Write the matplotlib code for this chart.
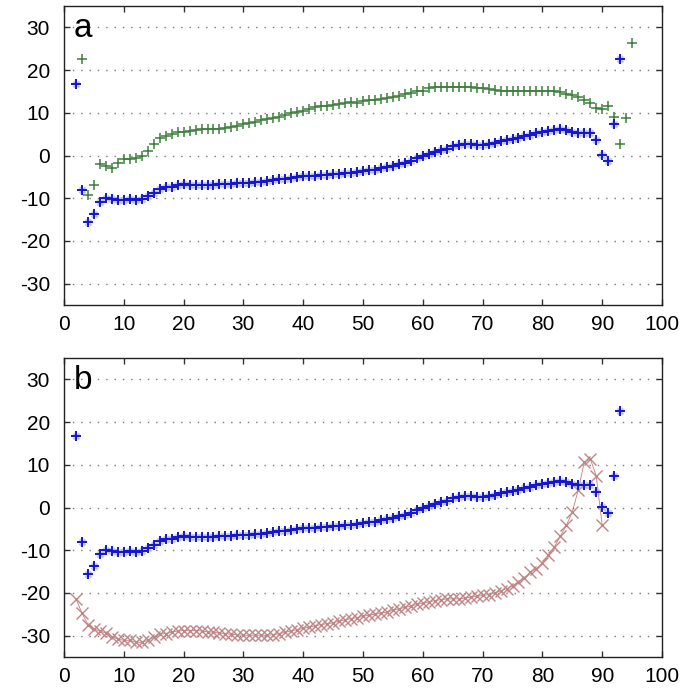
import numpy as np
import matplotlib
matplotlib.use('Agg')
import matplotlib.pyplot as plt

plt.rcParams['font.family'] = ['Liberation Sans', 'DejaVu Sans']
plt.rcParams['axes.unicode_minus'] = False

# blue series (same in both panels), x = 2..93
blue_x = list(range(2, 94))
blue_y = [16.8, -8.0, -15.6, -13.6, -10.9, -10.0, -10.2, -10.4, -10.3, -10.2,
          -10.3, -10.2, -9.5, -8.7, -7.8, -7.4, -7.3, -7.0, -6.7, -6.8,
          -6.8, -6.8, -6.8, -6.8, -6.7, -6.7, -6.6, -6.5, -6.4, -6.4,
          -6.2, -6.1, -5.9, -5.8, -5.6, -5.4, -5.2, -5.0, -4.8, -4.8,
          -4.7, -4.6, -4.5, -4.4, -4.3, -4.1, -4.0, -3.9, -3.7, -3.5,
          -3.3, -3.0, -2.8, -2.5, -2.1, -1.7, -1.2, -0.7, -0.2, 0.3,
          0.9, 1.3, 1.6, 2.2, 2.4, 2.6, 2.6, 2.5, 2.5, 2.7,
          3.0, 3.3, 3.6, 3.8, 4.1, 4.5, 4.9, 5.2, 5.5, 5.7,
          5.9, 6.2, 6.0, 5.5, 5.3, 5.3, 5.3, 3.6, 0.1, -1.2,
          7.3, 22.5]

# green series (panel a), x = 3..95
green_x = list(range(3, 96))
green_y = [22.7, -9.3, -7.0, -2.0, -2.5, -3.0, -1.7, -0.8, -0.8, -0.7,
           0.0, 1.0, 2.6, 4.1, 4.5, 5.1, 5.5, 5.6, 5.8, 5.9,
           6.1, 6.1, 6.1, 6.1, 6.5, 6.6, 7.0, 7.4, 7.7, 7.9,
           8.3, 8.6, 8.8, 9.1, 9.6, 10.0, 10.2, 10.4, 10.9, 11.3,
           11.5, 11.6, 11.9, 12.1, 12.3, 12.5, 12.4, 12.7, 12.9, 13.1,
           13.2, 13.4, 13.6, 13.9, 14.3, 14.7, 15.0, 15.2, 15.9, 16.0,
           16.0, 16.1, 16.1, 16.1, 16.1, 16.0, 15.8, 15.7, 15.6, 15.3,
           15.1, 15.0, 15.0, 15.0, 15.0, 15.0, 15.0, 15.0, 15.0, 15.0,
           14.8, 14.5, 14.1, 13.8, 13.1, 12.3, 11.2, 10.8, 11.7, 9.1,
           2.8, 8.8, 26.4]

# red series (panel b), x = 2..90
red_x = list(range(2, 91))
red_y = [-21.4, -24.7, -27.4, -28.5, -28.9, -29.4, -30.2, -30.8, -31.1, -31.1,
         -31.5, -31.6, -31.1, -30.3, -29.7, -29.5, -29.2, -28.9, -28.8, -28.8,
         -28.8, -28.9, -29.1, -29.2, -29.4, -29.5, -29.7, -29.8, -29.9, -29.9,
         -29.9, -29.9, -29.9, -29.8, -29.5, -29.2, -28.9, -28.6, -28.3, -28.0,
         -27.7, -27.4, -27.2, -27.0, -26.6, -26.3, -26.0, -25.8, -25.5, -25.2,
         -25.0, -24.7, -24.5, -24.1, -23.7, -23.4, -23.1, -22.7, -22.4, -22.1,
         -21.8, -21.6, -21.4, -21.4, -21.4, -21.2, -21.0, -20.8, -20.6, -20.4,
         -20.0, -19.5, -19.0, -18.3, -17.4, -16.5, -15.1, -14.3, -13.0, -11.2,
         -9.2, -6.7, -4.2, -1.0, 4.1, 10.6, 11.4, 7.4, -4.2]

yticks = [-30, -20, -10, 0, 10, 20, 30]
xticks = [0, 10, 20, 30, 40, 50, 60, 70, 80, 90, 100]

fig = plt.figure(figsize=(6.97, 6.91), dpi=100)
ax1 = fig.add_axes([0.0918, 0.5586, 0.858, 0.4327])
ax2 = fig.add_axes([0.0918, 0.0492, 0.858, 0.4327])


def style(ax, letter):
    ax.set_xlim(0, 100)
    ax.set_ylim(-35, 35)
    ax.set_xticks(xticks)
    ax.set_yticks(yticks)
    ax.tick_params(direction='in', length=4, width=1, top=True, right=True,
                   labelsize=15, color='#333333')
    ax.tick_params(axis='x', pad=7)
    ax.tick_params(axis='y', pad=10)
    ax.grid(axis='y', color='#777777', linestyle=(0, (1, 5)), linewidth=1)
    ax.set_axisbelow(True)
    for s in ax.spines.values():
        s.set_color('#222222')
        s.set_linewidth(1)
    ax.text(0.016, 0.975, letter, transform=ax.transAxes, fontsize=24,
            va='top', ha='left')


def blue(ax):
    ax.plot(blue_x, blue_y, ls='none', marker='x', ms=5, mew=1.8,
            color='#9aa6e8', alpha=0.6)
    ax.plot(blue_x, blue_y, ls='none', marker='+', ms=6.5, mew=1.4,
            color='#1515d0')


style(ax1, 'a')
ax1.plot(green_x, green_y, ls='none', marker='+', ms=7.5, mew=1.1,
         color='#3d7f3d')
blue(ax1)

style(ax2, 'b')
ax2.plot(red_x, red_y, color='#b02020', lw=0.6, alpha=0.6)
ax2.plot(red_x, red_y, ls='none', marker='x', ms=8, mew=1.0,
         color='#c08585')
blue(ax2)

fig.savefig('out.png', dpi=100)
